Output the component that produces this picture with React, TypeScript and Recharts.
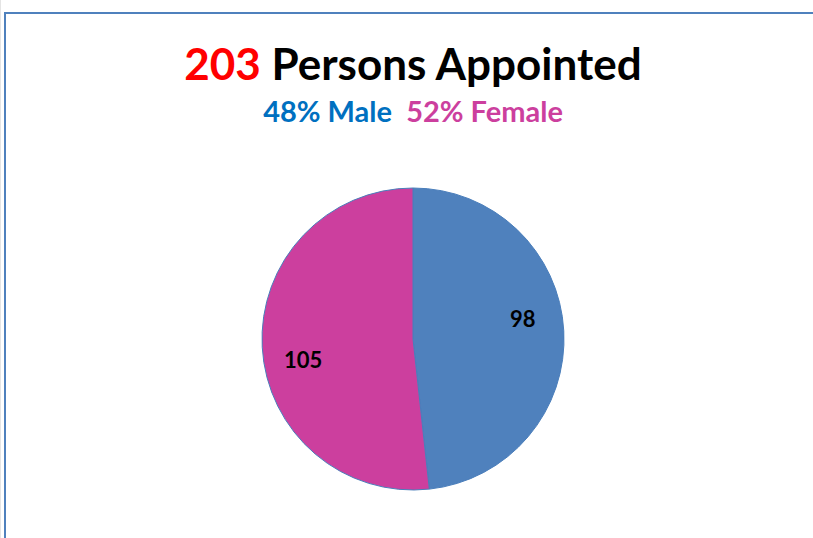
import { PieChart, Pie, Cell } from 'recharts';

const categories = ['Male', 'Female'];
const counts = [98, 105];
const sliceColors = ['#4F81BD', '#CC3F9E'];
const totalLabel = '203';
const subtitleMale = '48% Male';
const subtitleFemale = '52% Female';

const data = categories.map((name, i) => ({ name, value: counts[i] }));

const FONT = 'Lato, "Open Sans", sans-serif';
const RAD = Math.PI / 180;

// Excel-style data labels sit a bit inside and slightly rotated from the centroid
const renderLabel = (props: any) => {
  const { cx, cy, midAngle, outerRadius, value } = props;
  const r = outerRadius * 0.74;
  const a = (midAngle + 7.5) * RAD;
  const x = cx + r * Math.cos(a);
  const y = cy - r * Math.sin(a);
  return (
    <text
      x={x}
      y={y}
      textAnchor="middle"
      dominantBaseline="central"
      fill="#000"
      style={{ fontFamily: FONT, fontWeight: 700, fontSize: 22 }}
    >
      {value}
    </text>
  );
};

export default function App() {
  return (
    <div
      style={{
        position: 'fixed',
        left: 0,
        top: 0,
        width: 813,
        height: 538,
        overflow: 'hidden',
        background: '#fff',
        fontFamily: FONT,
      }}
    >
      <div style={{ position: 'absolute', left: 0, top: 0, width: 1, height: 538, background: '#e4e4e4' }} />
      <div
        style={{
          position: 'absolute',
          left: 4,
          top: 12,
          width: 900,
          height: 700,
          borderTop: '2px solid #4F81BD',
          borderLeft: '2px solid #4F81BD',
        }}
      />
      <div
        style={{
          position: 'absolute',
          left: 0,
          width: 826,
          top: 38,
          textAlign: 'center',
          fontSize: 44,
          fontWeight: 700,
          lineHeight: '50px',
          color: '#000',
        }}
      >
        <span style={{ color: '#FF0000' }}>{totalLabel}</span> Persons Appointed
      </div>
      <div
        style={{
          position: 'absolute',
          left: 0,
          width: 826,
          top: 95,
          textAlign: 'center',
          fontSize: 29,
          fontWeight: 700,
          lineHeight: '32px',
          whiteSpace: 'pre',
        }}
      >
        <span style={{ color: '#0070C0' }}>{subtitleMale}</span>
        {'  '}
        <span style={{ color: '#CC3F9E' }}>{subtitleFemale}</span>
      </div>
      <div style={{ position: 'absolute', left: 0, top: 0 }}>
        <PieChart width={813} height={538} margin={{ top: 0, right: 0, bottom: 0, left: 0 }}>
          <Pie
            data={data}
            dataKey="value"
            nameKey="name"
            cx={413}
            cy={339}
            outerRadius={151}
            startAngle={90}
            endAngle={-270}
            label={renderLabel}
            labelLine={false}
            isAnimationActive={false}
          >
            {data.map((d, i) => (
              <Cell key={d.name} fill={sliceColors[i]} stroke="#4A7EBB" strokeWidth={1} />
            ))}
          </Pie>
        </PieChart>
      </div>
    </div>
  );
}
